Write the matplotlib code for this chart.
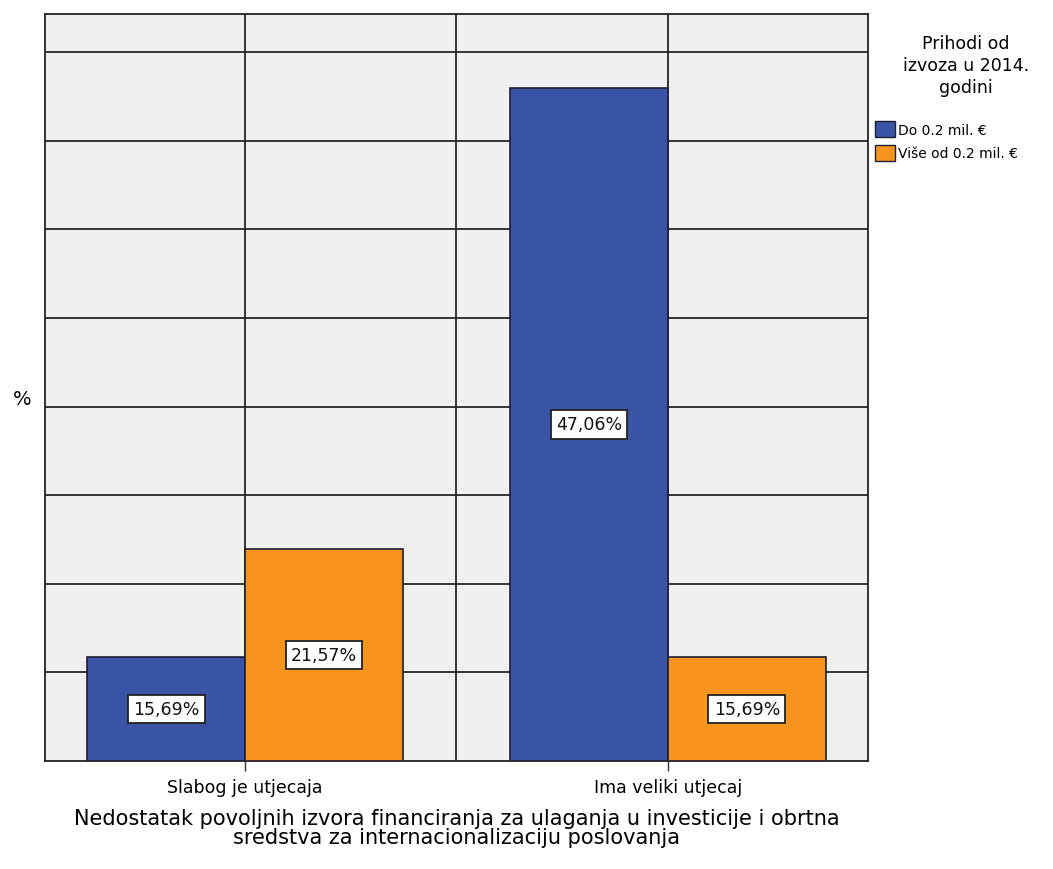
import matplotlib.pyplot as plt
import numpy as np
from matplotlib.patches import Patch

categories = ["Slabog je utjecaja", "Ima veliki utjecaj"]
series_names = ["Do 0.2 mil. €", "Više od 0.2 mil. €"]
# bar heights (axis units, no tick labels shown)
heights_do = [5.87, 38.0]
heights_vise = [11.96, 5.87]
# value labels printed inside the bars
labels_do = ["15,69%", "47,06%"]
labels_vise = ["21,57%", "15,69%"]

colors = ["#3a53a4", "#f7941d"]
edge = "#1f1f33"

plt.rcParams["font.family"] = ["DejaVu Sans"]

fig = plt.figure(figsize=(10.53, 8.70), dpi=100)
ax = fig.add_axes([0.0427, 0.1241, 0.7816, 0.8586])
ax.set_facecolor("#f0f0f0")

x = np.arange(len(categories))
width = 0.373

bars1 = ax.bar(x - width / 2, heights_do, width, color=colors[0],
               edgecolor=edge, linewidth=1.2, zorder=3)
bars2 = ax.bar(x + width / 2, heights_vise, width, color=colors[1],
               edgecolor=edge, linewidth=1.2, zorder=3)

for bars, labels in [(bars1, labels_do), (bars2, labels_vise)]:
    for b, lab in zip(bars, labels):
        ax.text(b.get_x() + b.get_width() / 2, b.get_height() / 2, lab,
                ha="center", va="center", fontsize=12.5, color="#111111",
                zorder=5,
                bbox=dict(boxstyle="square,pad=0.3", facecolor="white",
                          edgecolor="#222222", linewidth=1.3))

ax.set_xlim(-0.473, 1.473)
ax.set_ylim(0, 42.15)

# grid lines
ax.set_yticks(np.arange(5, 42, 5))
ax.grid(True, color="#262626", linewidth=1.3, zorder=0)
ax.set_axisbelow(True)
ax.tick_params(axis="y", length=0, labelleft=False)
ax.set_xticks([0, 0.5, 1])
ax.set_xticklabels([categories[0], "", categories[1]], fontsize=12.5)
ax.tick_params(axis="x", length=7, width=1, color="#333333", pad=5)
ax.xaxis.get_major_ticks()[1].tick1line.set_visible(False)

for s in ax.spines.values():
    s.set_color("#222222")
    s.set_linewidth(1.3)

ax.set_xlabel("Nedostatak povoljnih izvora financiranja za ulaganja u investicije i obrtna\n"
              "sredstva za internacionalizaciju poslovanja",
              fontsize=15, linespacing=0.95, labelpad=9)
ax.set_ylabel("%", fontsize=14, rotation=0, va="center", ha="center")
ax.yaxis.set_label_coords(-0.028, 0.485)

handles = [Patch(facecolor=colors[0], edgecolor=edge),
           Patch(facecolor=colors[1], edgecolor=edge)]
fig.text(0.917, 0.96, "Prihodi od\nizvoza u 2014.\ngodini", ha="center",
         va="top", fontsize=12.5, linespacing=1.3)
leg = fig.legend(handles, series_names, loc="upper left",
                 bbox_to_anchor=(0.826, 0.866), frameon=False, fontsize=10,
                 handlelength=1.4, handleheight=1.4, handletextpad=0.25,
                 labelspacing=0.55, borderaxespad=0)

fig.savefig("out.png", dpi=100)
